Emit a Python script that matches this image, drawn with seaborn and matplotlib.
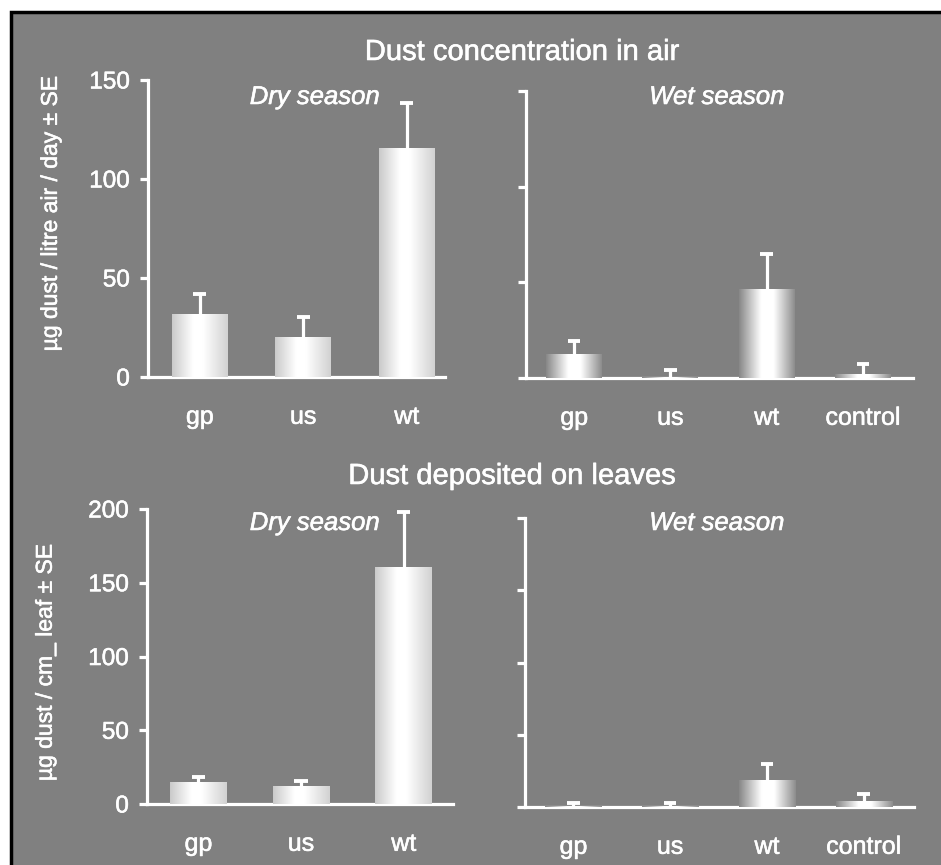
import numpy as np
import seaborn as sns
import matplotlib.pyplot as plt
import matplotlib.patheffects as pe
from matplotlib.patches import Rectangle

# categorias
cats_dry = ["gp", "us", "wt"]
cats_wet = ["gp", "us", "wt", "control"]

# poeira no ar (media e erro padrao)
air_dry = [31.8, 20.2, 115.7]
air_dry_se = [10.1, 10.1, 22.7]
air_wet = [12.5, 0.5, 46.5, 2.0]
air_wet_se = [6.9, 3.7, 18.3, 5.3]

# poeira depositada nas folhas
leaf_dry = [14.9, 12.2, 160.8]
leaf_dry_se = [3.1, 3.3, 37.2]
leaf_wet = [1.0, 1.0, 19.0, 4.0]
leaf_wet_se = [2.0, 1.5, 11.0, 5.0]

sns.set_theme(style="white")
plt.rcParams['font.family'] = ['Liberation Sans', 'DejaVu Sans']

W, H = 941, 865
fig = plt.figure(figsize=(W / 100, H / 100), dpi=100)
fig.patch.set_facecolor("white")

# deixa o texto um pouco mais "gordo", como no original escaneado
grosso = [pe.withStroke(linewidth=0.4, foreground="white")]

# painel cinza com borda preta
fig.patches.append(Rectangle((10.5 / W, -0.02), 1.0, (H - 12) / H + 0.02,
                             transform=fig.transFigure, facecolor="#808080",
                             edgecolor="black", linewidth=2.5, zorder=-5))


def px_axes(x0, x1, ytop, ybot):
    return fig.add_axes([x0 / W, 1 - ybot / H, (x1 - x0) / W, (ybot - ytop) / H])


def painel(ax, cats, vals, se, ymax, step, xmax, bar_w, wet, ticklabels):
    sns.barplot(x=cats, y=vals, ax=ax, color="white", width=bar_w,
                errorbar=None, zorder=3, linewidth=0)
    # gradiente nas barras
    t = np.linspace(0, 1, 256)
    if wet:
        prof = np.interp(t, [0, 0.4, 0.62, 1], [0.53, 1.0, 1.0, 0.55])
    else:
        prof = np.interp(t, [0, 0.38, 0.55, 1], [0.79, 1.0, 1.0, 0.82])
    for p in ax.patches:
        x0, y0 = p.get_x(), p.get_y()
        im = ax.imshow(prof[None, :], cmap="gray", vmin=0, vmax=1, aspect="auto",
                       extent=[x0, x0 + p.get_width(), y0, y0 + p.get_height()],
                       zorder=3, interpolation="bilinear")
        im.set_clip_path(p)
    # barras de erro (so para cima)
    xs = np.arange(len(cats))
    tops = np.array(vals) + np.array(se)
    ax.vlines(xs, vals, tops, color="white", linewidth=2.3, zorder=2)
    ax.hlines(tops, xs - 0.065, xs + 0.065, color="white", linewidth=2.8, zorder=2)

    ax.set_xlim(-0.5, xmax)
    ax.set_ylim(0, ymax)
    ax.set_yticks(np.arange(0, ymax + 1, step))
    ax.set_facecolor("none")
    for s in ["top", "right"]:
        ax.spines[s].set_visible(False)
    for s in ["left", "bottom"]:
        ax.spines[s].set_color("white")
        ax.spines[s].set_linewidth(2.3)
    ax.tick_params(axis="y", colors="white", length=6, width=2.3, pad=7,
                   labelsize=17.5, left=True, labelleft=ticklabels)
    ax.tick_params(axis="x", colors="white", length=0, pad=20, labelsize=18)
    for lb in ax.get_xticklabels() + ax.get_yticklabels():
        lb.set_path_effects(grosso)
    ax.set_xlabel("")


ax1 = px_axes(148, 445, 80, 377)
painel(ax1, cats_dry, air_dry, air_dry_se, 150, 50, 2.37, 0.54, False, True)
ax2 = px_axes(526, 913, 91, 378)
painel(ax2, cats_wet, air_wet, air_wet_se, 150, 50, 3.52, 0.58, True, False)
ax3 = px_axes(147, 453, 509, 804)
painel(ax3, cats_dry, leaf_dry, leaf_dry_se, 200, 50, 2.48, 0.55, False, True)
ax4 = px_axes(525, 914, 518, 807)
painel(ax4, cats_wet, leaf_wet, leaf_wet_se, 200, 50, 3.52, 0.58, True, False)

ax1.set_ylabel("µg dust / litre air / day ± SE", color="white", fontsize=16.5,
               path_effects=grosso)
ax1.yaxis.set_label_coords(-0.29, 0.55)
ax3.set_ylabel("µg dust / cm_ leaf ± SE", color="white", fontsize=16.5,
               path_effects=grosso)
ax3.yaxis.set_label_coords(-0.295, 0.48)

# titulos e estacoes
fig.text(522 / W, 1 - 52 / H, "Dust concentration in air", color="white",
         fontsize=21, ha="center", va="center", path_effects=grosso)
fig.text(512 / W, 1 - 476 / H, "Dust deposited on leaves", color="white",
         fontsize=21, ha="center", va="center", path_effects=grosso)
for xc, yc, txt in [(315, 97, "Dry season"), (717, 97, "Wet season"),
                    (315, 523, "Dry season"), (717, 523, "Wet season")]:
    fig.text(xc / W, 1 - yc / H, txt, color="white", fontsize=18.5,
             style="italic", ha="center", va="center", path_effects=grosso)

plt.savefig("out.png", dpi=100)
plt.close()
